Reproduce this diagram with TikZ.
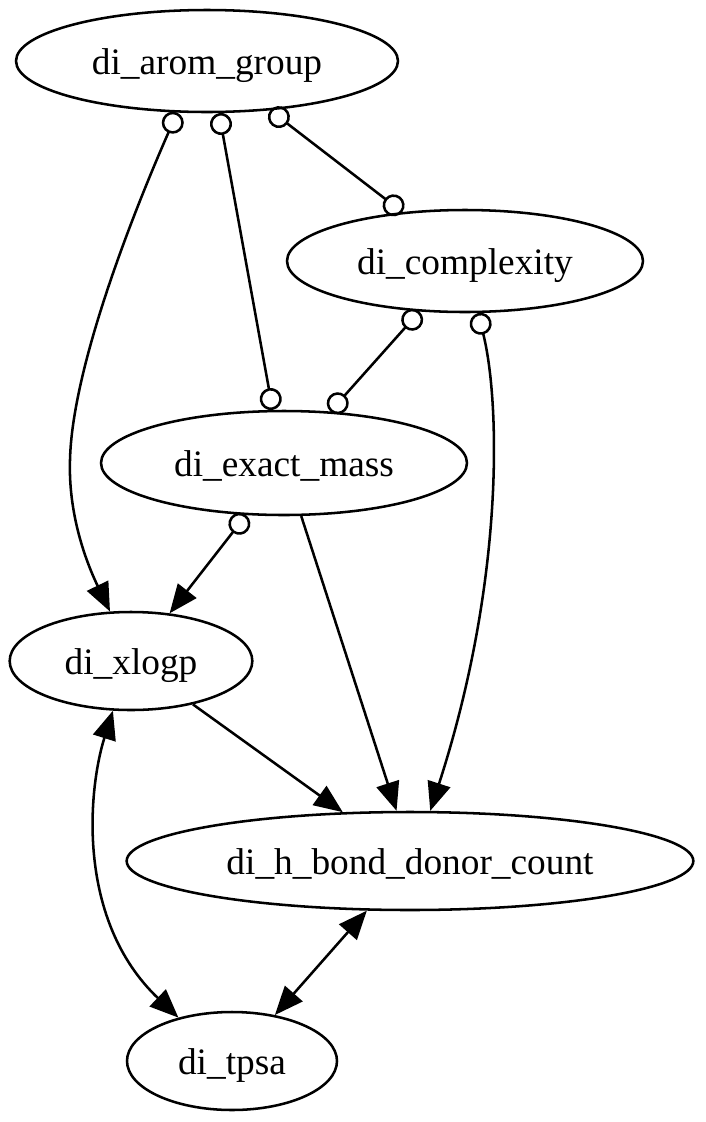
\documentclass[tikz,border=0pt]{standalone}
\usepackage{fontspec}
\setmainfont{Liberation Serif}
\usepackage{tikz}
\usetikzlibrary{arrows.meta,shapes.geometric,calc}

\begin{document}
\begin{tikzpicture}[x=0.75pt,y=0.75pt,yscale=-1,xscale=1,
        var/.style={ellipse, draw, line width=1.9pt, inner sep=0pt, text height=20pt, text depth=0pt,
            font=\fontsize{28}{32}\selectfont},
        edge/.style={line width=1.9pt},
        Odot/.tip={Circle[open,length=16.5pt]},
        Tri/.tip={Triangle[length=21.5pt,width=17.5pt]}]
        \useasboundingbox (0,0) rectangle (706,1122);
        %Shape: Ellipse [arom]
        \node [var, minimum width=286.5pt, minimum height=76.5pt] (arom) at (207,61) {di\_arom\_group};
        %Shape: Ellipse [cplx]
        \node [var, minimum width=267pt, minimum height=76.5pt] (cplx) at (465,261) {di\_complexity};
        %Shape: Ellipse [emass]
        \node [var, minimum width=274.5pt, minimum height=78pt] (emass) at (284,463) {di\_exact\_mass};
        %Shape: Ellipse [xlogp]
        \node [var, minimum width=182pt, minimum height=73.5pt] (xlogp) at (131,661) {di\_xlogp};
        %Shape: Ellipse [hbond]
        \node [var, minimum width=425pt, minimum height=73.5pt] (hbond) at (410,861) {di\_h\_bond\_donor\_count};
        %Shape: Ellipse [tpsa]
        \node [var, minimum width=157.5pt, minimum height=73.5pt] (tpsa) at (232,1061) {di\_tpsa};
        %Curve Lines [arom -> xlogp]
        \draw [edge, Odot-Tri] (arom.-120) .. controls (130,220) and (72,370) .. (70,460)
            .. controls (68,520) and (90,570) .. (xlogp.113) ;
        %Straight Lines [arom -- emass]
        \draw [edge, Odot-Odot] (arom.-77) -- (emass.102) ;
        %Straight Lines [arom -- cplx]
        \draw [edge, Odot-Odot] (arom.-38) -- (cplx.142) ;
        %Straight Lines [cplx -- emass]
        \draw [edge, Odot-Odot] (cplx.-132) -- (emass.48) ;
        %Curve Lines [cplx -> hbond]
        \draw [edge, Odot-Tri] (cplx.-76) .. controls (500,400) and (505,580) .. (hbond.68) ;
        %Straight Lines [emass -> xlogp]
        \draw [edge, Odot-Tri] (emass.-126) -- (xlogp.51) ;
        %Straight Lines [emass -> hbond]
        \draw [edge, -Tri] (emass.-72) -- (hbond.105) ;
        %Straight Lines [xlogp -> hbond]
        \draw [edge, -Tri] (xlogp.-35) -- (hbond.144) ;
        %Curve Lines [xlogp <-> tpsa]
        \draw [edge, Tri-Tri] (xlogp.-110) .. controls (88,790) and (76,920) .. (tpsa.141) ;
        %Straight Lines [hbond <-> tpsa]
        \draw [edge, Tri-Tri] (hbond.-131) -- (tpsa.47) ;
\end{tikzpicture}
\end{document}
